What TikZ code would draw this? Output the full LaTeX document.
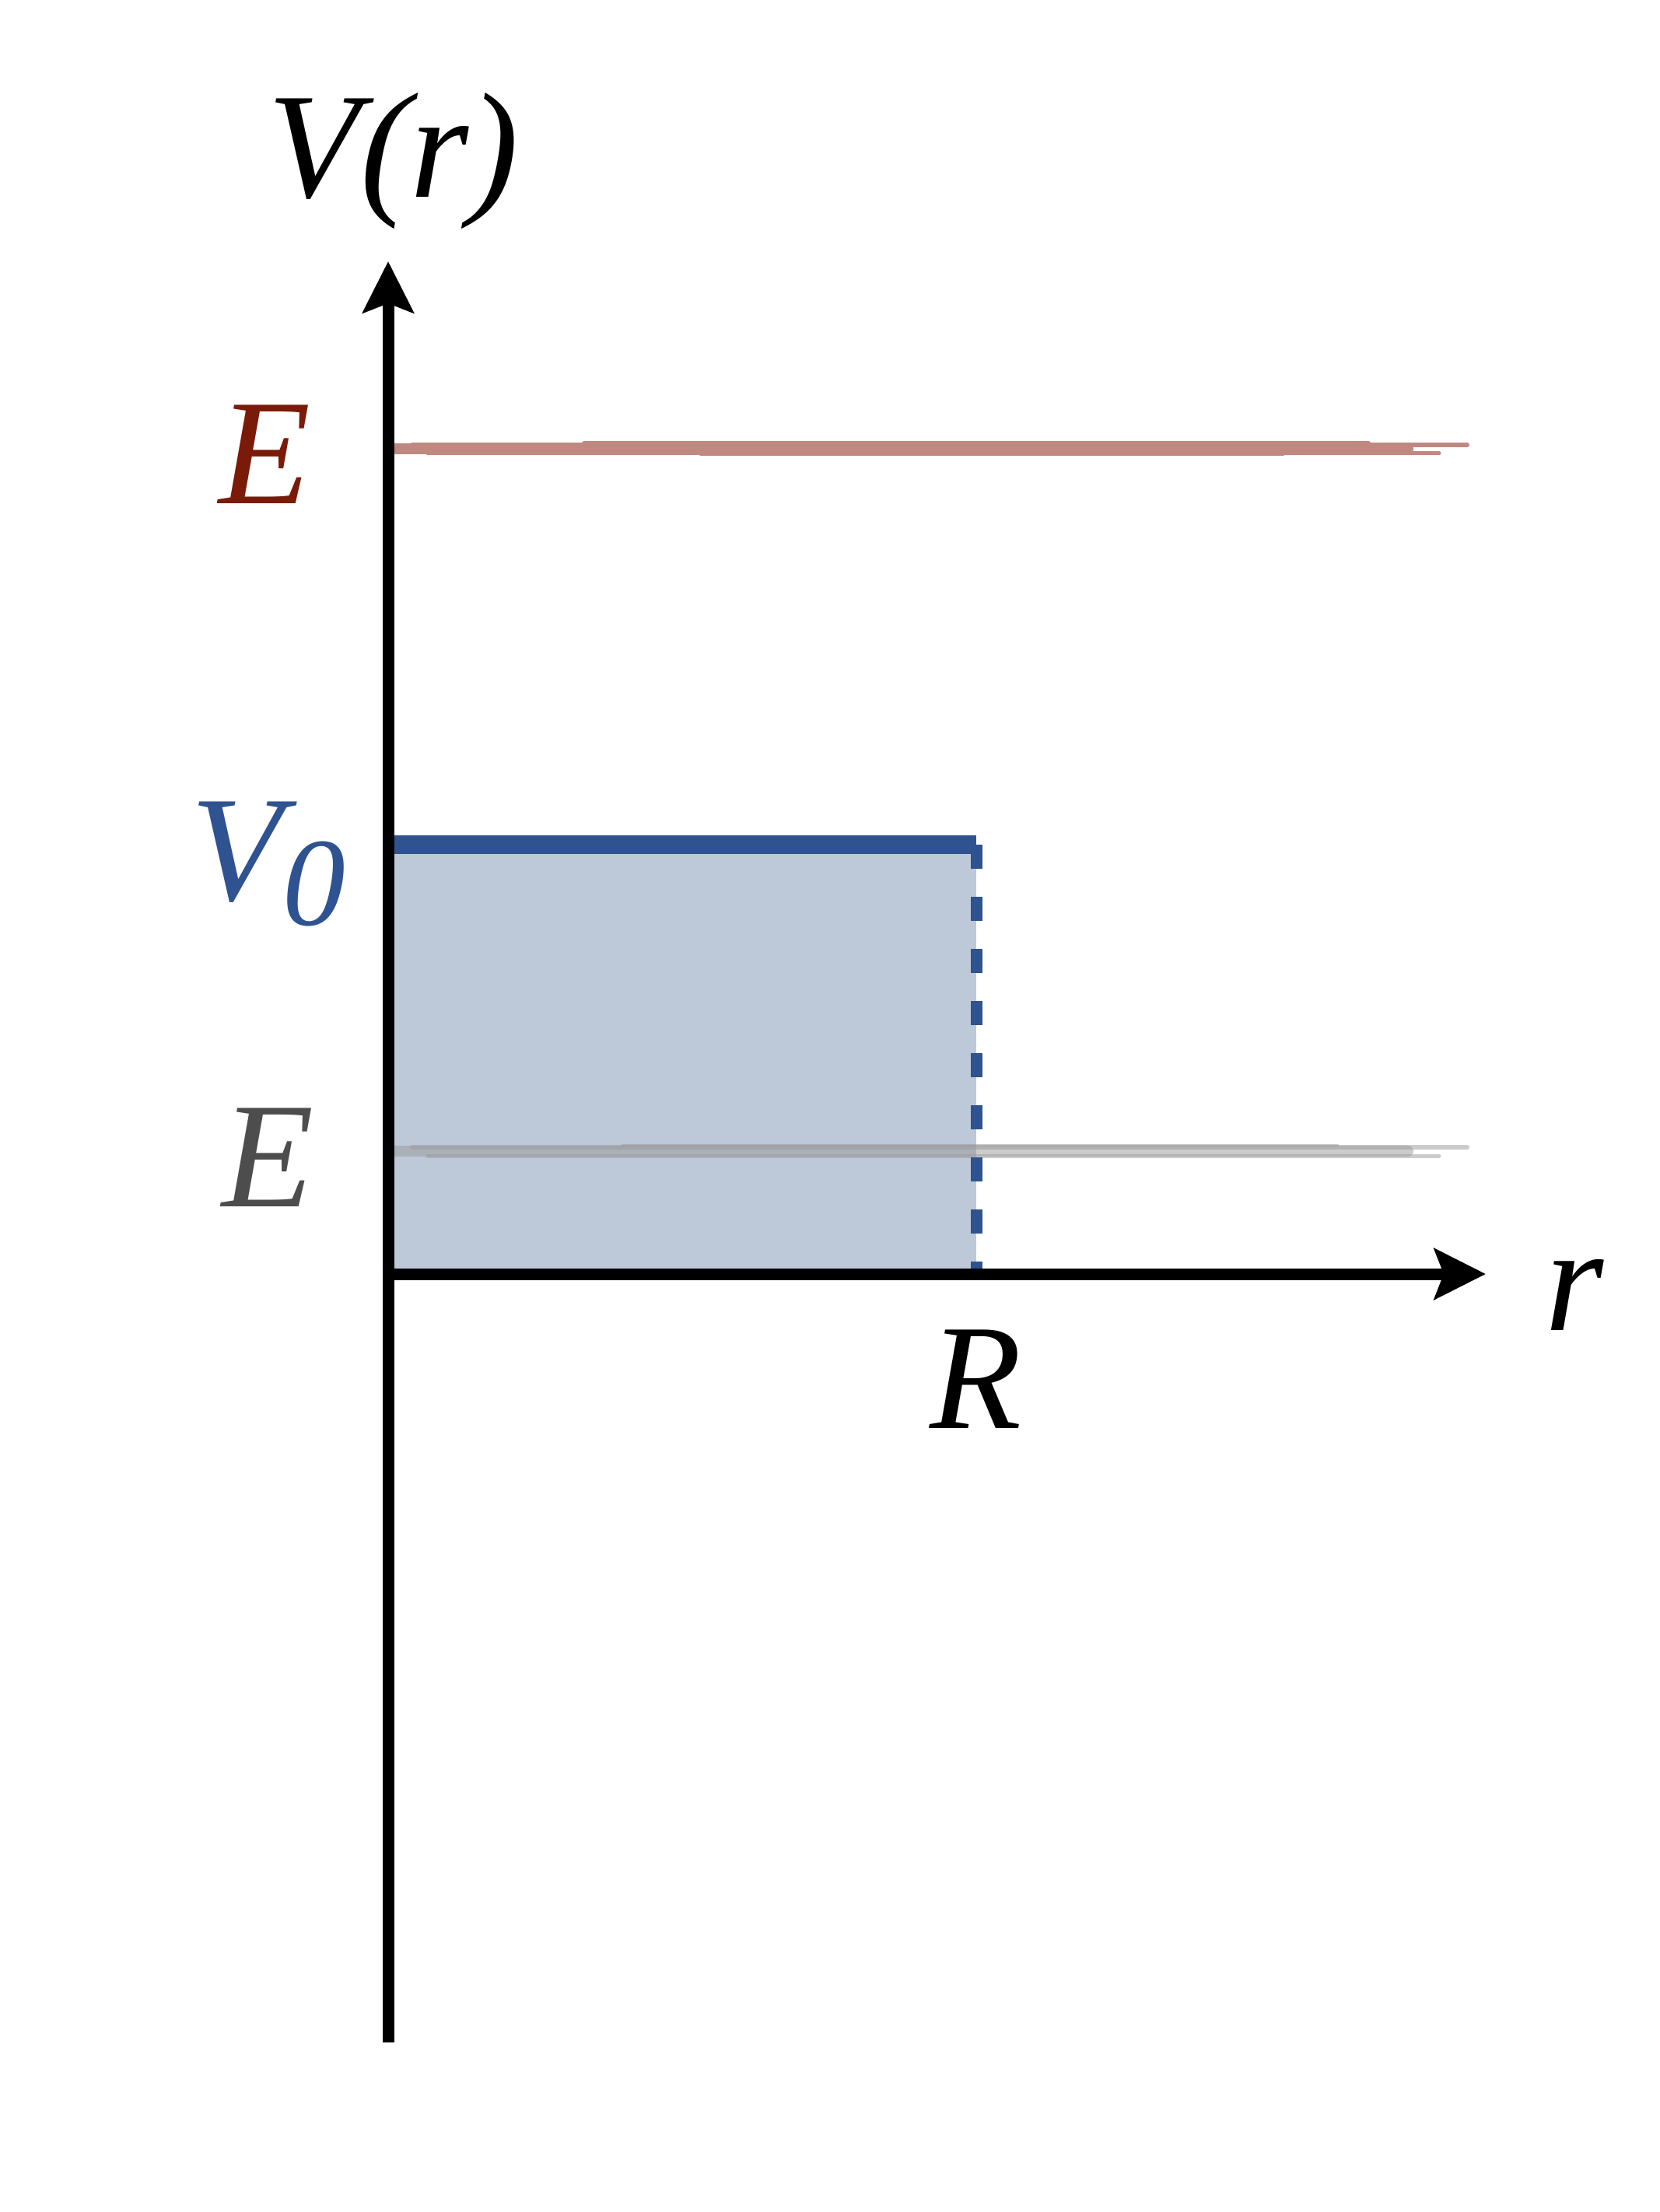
\documentclass[tikz,border=0pt]{standalone}
\usepackage{fontspec}
\setmainfont{Liberation Serif}
\usetikzlibrary{arrows.meta}
\definecolor{wellblue}{RGB}{47,82,144}
\definecolor{wellfill}{RGB}{189,200,217}
\definecolor{highE}{RGB}{122,26,8}
\definecolor{highEline}{RGB}{191,136,128}
\definecolor{lowE}{RGB}{77,77,77}
\tikzset{
  axis/.style={line width=0.15cm, -{Stealth[length=0.66cm, width=0.65cm, inset=0.12cm]}},
  lbl/.style={anchor=base, inner sep=0pt, font=\fontsize{55}{60}\selectfont\itshape},
  wellTop/.style={wellblue, line width=0.24cm},
  wellEdge/.style={wellblue, line width=0.15cm, dash pattern=on 0.31cm off 0.36cm},
  brushHigh/.style={highEline, line cap=round},
  brushLow/.style={black!40, opacity=0.5, line cap=round},
}
\begin{document}
\begin{tikzpicture}
\useasboundingbox (0,0) rectangle (21.33,-28.44);

%% ─── Key points ─────────────────────────────────────────────────────────────
\coordinate (O)    at (4.99,-16.38);
\coordinate (ytop) at (4.99,-3.36);
\coordinate (ybot) at (4.99,-26.26);
\coordinate (xtip) at (19.10,-16.38);
\coordinate (V0L)  at (4.92,-10.86);
\coordinate (V0R)  at (12.55,-10.86);
\coordinate (RB)   at (12.55,-16.38);

%% ─── Square well (fill, top edge, dashed wall) ──────────────────────────────
\fill[wellfill] (V0L) rectangle (RB);

%% ─── Energy levels (brush strokes) ─────────────────────────────────────────
\foreach \dy/\xs/\xe/\w in {0/5.08/18.1/0.14, 0.05/5.3/18.86/0.06, -0.06/5.5/18.5/0.05, 0.08/7.5/17.6/0.03, -0.08/9/16.5/0.02} {
  \draw[brushHigh, line width=\w cm] (\xs,-5.77+\dy) -- (\xe,-5.77+\dy);
}
\foreach \dy/\xs/\xe/\w in {0/5.08/18.1/0.14, 0.05/5.3/18.86/0.06, -0.06/5.5/18.5/0.05, 0.08/8/17.2/0.03} {
  \draw[brushLow, line width=\w cm] (\xs,-14.8+\dy) -- (\xe,-14.8+\dy);
}

\draw[wellEdge] (V0R) -- (RB);
\draw[wellTop] (V0L) -- (V0R);

%% ─── Axes ───────────────────────────────────────────────────────────────────
\draw[axis] (ybot) -- (ytop);
\draw[axis] ([xshift=-0.075cm]O) -- (xtip);

%% ─── Labels ─────────────────────────────────────────────────────────────────
\node[lbl] (Vr)   at (5.06,-2.54)  {V(r)};
\node[lbl, text=highE] (Ehigh) at (3.41,-6.48) {E};
\node[lbl, text=wellblue] (V0) at (3.45,-11.57)
  {V\raisebox{-0.17em}{\fontsize{46}{50}\selectfont 0}};
\node[lbl, text=lowE] (Elow) at (3.45,-15.51) {E};
\node[lbl] (rlbl) at (20.24,-17.10) {r};
\node[lbl] (Rlbl) at (12.55,-18.36) {R};

\end{tikzpicture}
\end{document}
